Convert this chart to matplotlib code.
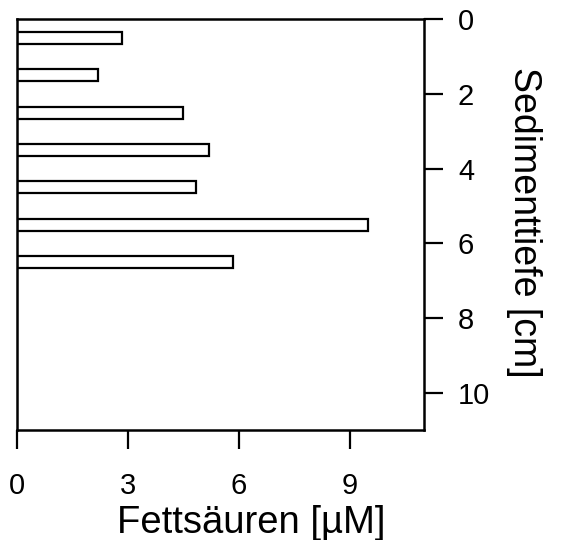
import matplotlib.pyplot as plt

plt.rcParams['font.family'] = ['Liberation Sans', 'DejaVu Sans']

# sediment depth (cm, centre of each slice) and fatty acid concentration (uM)
depth = [0.5, 1.5, 2.5, 3.5, 4.5, 5.5, 6.5]
fatty_acids = [2.85, 2.2, 4.5, 5.2, 4.85, 9.5, 5.85]

x_ticks = [0, 3, 6, 9]
y_ticks = [0, 2, 4, 6, 8, 10]

fig = plt.figure(figsize=(5.63, 5.40), dpi=100)
ax = fig.add_axes([0.030, 0.204, 0.723, 0.760])

ax.barh(depth, fatty_acids, height=0.32, color='white', edgecolor='black', linewidth=1.6)

ax.set_xlim(0, 11)
ax.set_ylim(11, 0)

ax.set_xticks(x_ticks)
ax.set_yticks(y_ticks)

# depth axis on the right side
ax.yaxis.tick_right()
ax.yaxis.set_label_position('right')

ax.tick_params(axis='both', direction='out', length=14, width=1.6, labelsize=21)
ax.tick_params(axis='x', pad=16)
ax.tick_params(axis='y', pad=10.5)
for s in ax.spines.values():
    s.set_linewidth(1.8)

ax.set_xlabel('Fettsäuren [µM]', fontsize=27.5)
ax.xaxis.set_label_coords(0.576, -0.184)
ax.set_ylabel('Sedimenttiefe [cm]', fontsize=27, rotation=270, va='center', ha='center')
ax.yaxis.set_label_coords(1.245, 0.506)

fig.savefig('out.png', dpi=100)
